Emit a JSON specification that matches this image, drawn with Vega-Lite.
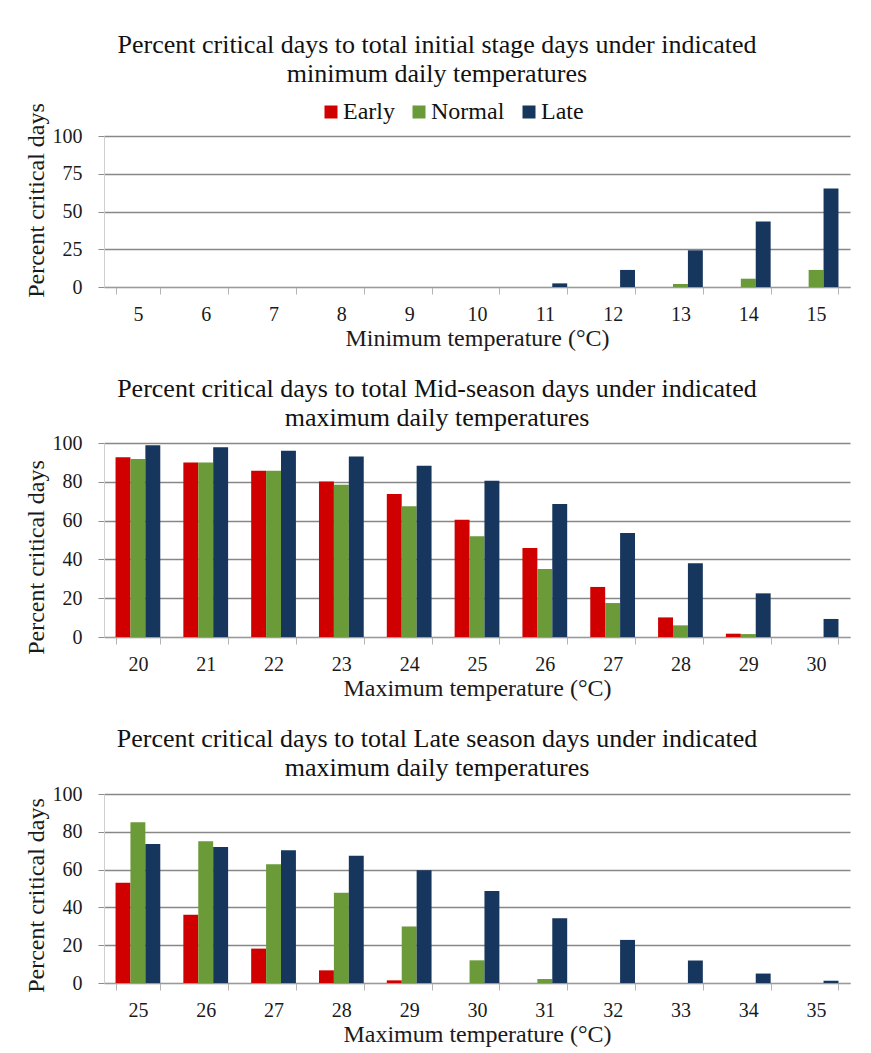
{
  "$schema": "https://vega.github.io/schema/vega-lite/v6.json",
  "background": "white",
  "padding": {"left": 24, "top": 32, "right": 12, "bottom": 6},
  "spacing": 26,
  "datasets": {
    "initial": [
      {"temp": 5, "series": "Early", "pct": 0}, {"temp": 5, "series": "Normal", "pct": 0}, {"temp": 5, "series": "Late", "pct": 0},
      {"temp": 6, "series": "Early", "pct": 0}, {"temp": 6, "series": "Normal", "pct": 0}, {"temp": 6, "series": "Late", "pct": 0},
      {"temp": 7, "series": "Early", "pct": 0}, {"temp": 7, "series": "Normal", "pct": 0}, {"temp": 7, "series": "Late", "pct": 0},
      {"temp": 8, "series": "Early", "pct": 0}, {"temp": 8, "series": "Normal", "pct": 0}, {"temp": 8, "series": "Late", "pct": 0},
      {"temp": 9, "series": "Early", "pct": 0}, {"temp": 9, "series": "Normal", "pct": 0}, {"temp": 9, "series": "Late", "pct": 0},
      {"temp": 10, "series": "Early", "pct": 0}, {"temp": 10, "series": "Normal", "pct": 0}, {"temp": 10, "series": "Late", "pct": 0},
      {"temp": 11, "series": "Early", "pct": 0}, {"temp": 11, "series": "Normal", "pct": 0}, {"temp": 11, "series": "Late", "pct": 2.4},
      {"temp": 12, "series": "Early", "pct": 0}, {"temp": 12, "series": "Normal", "pct": 0}, {"temp": 12, "series": "Late", "pct": 11.3},
      {"temp": 13, "series": "Early", "pct": 0}, {"temp": 13, "series": "Normal", "pct": 2.0}, {"temp": 13, "series": "Late", "pct": 24.3},
      {"temp": 14, "series": "Early", "pct": 0}, {"temp": 14, "series": "Normal", "pct": 5.5}, {"temp": 14, "series": "Late", "pct": 43.3},
      {"temp": 15, "series": "Early", "pct": 0}, {"temp": 15, "series": "Normal", "pct": 11.3}, {"temp": 15, "series": "Late", "pct": 65.3}
    ],
    "mid": [
      {"temp": 20, "series": "Early", "pct": 92.6}, {"temp": 20, "series": "Normal", "pct": 91.8}, {"temp": 20, "series": "Late", "pct": 98.8},
      {"temp": 21, "series": "Early", "pct": 90.0}, {"temp": 21, "series": "Normal", "pct": 90.0}, {"temp": 21, "series": "Late", "pct": 97.8},
      {"temp": 22, "series": "Early", "pct": 85.7}, {"temp": 22, "series": "Normal", "pct": 85.7}, {"temp": 22, "series": "Late", "pct": 96.0},
      {"temp": 23, "series": "Early", "pct": 80.2}, {"temp": 23, "series": "Normal", "pct": 78.5}, {"temp": 23, "series": "Late", "pct": 93.1},
      {"temp": 24, "series": "Early", "pct": 73.7}, {"temp": 24, "series": "Normal", "pct": 67.4}, {"temp": 24, "series": "Late", "pct": 88.3},
      {"temp": 25, "series": "Early", "pct": 60.5}, {"temp": 25, "series": "Normal", "pct": 51.9}, {"temp": 25, "series": "Late", "pct": 80.6},
      {"temp": 26, "series": "Early", "pct": 45.9}, {"temp": 26, "series": "Normal", "pct": 35.1}, {"temp": 26, "series": "Late", "pct": 68.6},
      {"temp": 27, "series": "Early", "pct": 25.8}, {"temp": 27, "series": "Normal", "pct": 17.5}, {"temp": 27, "series": "Late", "pct": 53.6},
      {"temp": 28, "series": "Early", "pct": 10.1}, {"temp": 28, "series": "Normal", "pct": 6.0}, {"temp": 28, "series": "Late", "pct": 38.0},
      {"temp": 29, "series": "Early", "pct": 1.7}, {"temp": 29, "series": "Normal", "pct": 1.5}, {"temp": 29, "series": "Late", "pct": 22.5},
      {"temp": 30, "series": "Early", "pct": 0}, {"temp": 30, "series": "Normal", "pct": 0}, {"temp": 30, "series": "Late", "pct": 9.3}
    ],
    "late": [
      {"temp": 25, "series": "Early", "pct": 53.1}, {"temp": 25, "series": "Normal", "pct": 85.1}, {"temp": 25, "series": "Late", "pct": 73.5},
      {"temp": 26, "series": "Early", "pct": 36.1}, {"temp": 26, "series": "Normal", "pct": 75.0}, {"temp": 26, "series": "Late", "pct": 72.0},
      {"temp": 27, "series": "Early", "pct": 18.2}, {"temp": 27, "series": "Normal", "pct": 62.8}, {"temp": 27, "series": "Late", "pct": 70.3},
      {"temp": 28, "series": "Early", "pct": 6.7}, {"temp": 28, "series": "Normal", "pct": 47.8}, {"temp": 28, "series": "Late", "pct": 67.3},
      {"temp": 29, "series": "Early", "pct": 1.4}, {"temp": 29, "series": "Normal", "pct": 29.9}, {"temp": 29, "series": "Late", "pct": 59.6},
      {"temp": 30, "series": "Early", "pct": 0}, {"temp": 30, "series": "Normal", "pct": 12.0}, {"temp": 30, "series": "Late", "pct": 48.7},
      {"temp": 31, "series": "Early", "pct": 0}, {"temp": 31, "series": "Normal", "pct": 2.1}, {"temp": 31, "series": "Late", "pct": 34.3},
      {"temp": 32, "series": "Early", "pct": 0}, {"temp": 32, "series": "Normal", "pct": 0}, {"temp": 32, "series": "Late", "pct": 22.8},
      {"temp": 33, "series": "Early", "pct": 0}, {"temp": 33, "series": "Normal", "pct": 0}, {"temp": 33, "series": "Late", "pct": 11.9},
      {"temp": 34, "series": "Early", "pct": 0}, {"temp": 34, "series": "Normal", "pct": 0}, {"temp": 34, "series": "Late", "pct": 5.0},
      {"temp": 35, "series": "Early", "pct": 0}, {"temp": 35, "series": "Normal", "pct": 0}, {"temp": 35, "series": "Late", "pct": 1.2}
    ]
  },
  "config": {
    "font": "Liberation Serif",
    "view": {"stroke": null},
    "bar": {"stroke": null},
    "axis": {
      "labelFont": "Liberation Serif",
      "titleFont": "Liberation Serif",
      "labelFontSize": 20,
      "titleFontSize": 24,
      "titleFontWeight": "normal",
      "labelColor": "#1a1a1a",
      "titleColor": "#1a1a1a"
    },
    "axisX": {
      "labelAngle": 0,
      "grid": false,
      "domainColor": "#9a9a9a",
      "tickColor": "#b4b4b4",
      "tickSize": 7,
      "tickBand": "extent",
      "labelPadding": 10,
      "titlePadding": 2
    },
    "axisY": {
      "domainColor": "#cfcfcf",
      "tickColor": "#8c8c8c",
      "tickSize": 6,
      "gridColor": "#878787",
      "gridWidth": 1.3,
      "labelPadding": 16,
      "titlePadding": 4
    },
    "title": {
      "font": "Liberation Serif",
      "fontSize": 26,
      "fontWeight": "normal",
      "color": "#111111",
      "anchor": "middle",
      "frame": "bounds",
      "lineHeight": 29
    },
    "legend": {
      "labelFont": "Liberation Serif",
      "labelFontSize": 24,
      "labelColor": "#111111",
      "symbolType": "square",
      "symbolSize": 169,
      "symbolStrokeWidth": 0,
      "labelOffset": 0,
      "columnPadding": 12
    }
  },
  "resolve": {"legend": {"color": "independent"}},
  "vconcat": [
    {
      "title": {
        "text": ["Percent critical days to total initial stage days under indicated", "minimum daily temperatures"],
        "offset": 13
      },
      "data": {"name": "initial"},
      "width": 746,
      "height": 151,
      "mark": {"type": "bar"},
      "encoding": {
        "x": {
          "field": "temp",
          "type": "ordinal",
          "scale": {"paddingInner": 0.34, "paddingOuter": 0.17},
          "axis": {"title": "Minimum temperature (°C)"}
        },
        "xOffset": {
          "field": "series",
          "type": "nominal",
          "sort": ["Early", "Normal", "Late"],
          "scale": {"paddingInner": 0, "paddingOuter": 0}
        },
        "y": {
          "field": "pct",
          "type": "quantitative",
          "scale": {"domain": [0, 100]},
          "axis": {"title": "Percent critical days", "values": [0, 25, 50, 75, 100], "titleY": 64}
        },
        "color": {
          "field": "series",
          "type": "nominal",
          "sort": ["Early", "Normal", "Late"],
          "scale": {"domain": ["Early", "Normal", "Late"], "range": ["#d00000", "#6b9a39", "#17365d"]},
          "legend": {"title": null, "orient": "none", "direction": "horizontal", "legendX": 215, "legendY": -36}
        }
      }
    },
    {
      "title": {
        "text": ["Percent critical days to total Mid-season days under indicated", "maximum daily temperatures"],
        "offset": 2
      },
      "data": {"name": "mid"},
      "width": 746,
      "height": 194,
      "mark": {"type": "bar"},
      "encoding": {
        "x": {
          "field": "temp",
          "type": "ordinal",
          "scale": {"paddingInner": 0.34, "paddingOuter": 0.17},
          "axis": {"title": "Maximum temperature (°C)"}
        },
        "xOffset": {
          "field": "series",
          "type": "nominal",
          "sort": ["Early", "Normal", "Late"],
          "scale": {"paddingInner": 0, "paddingOuter": 0}
        },
        "y": {
          "field": "pct",
          "type": "quantitative",
          "scale": {"domain": [0, 100]},
          "axis": {"title": "Percent critical days", "values": [0, 20, 40, 60, 80, 100], "titleY": 114}
        },
        "color": {
          "field": "series",
          "type": "nominal",
          "sort": ["Early", "Normal", "Late"],
          "scale": {"domain": ["Early", "Normal", "Late"], "range": ["#d00000", "#6b9a39", "#17365d"]},
          "legend": null
        }
      }
    },
    {
      "title": {
        "text": ["Percent critical days to total Late season days under indicated", "maximum daily temperatures"],
        "offset": 3
      },
      "data": {"name": "late"},
      "width": 746,
      "height": 189,
      "mark": {"type": "bar"},
      "encoding": {
        "x": {
          "field": "temp",
          "type": "ordinal",
          "scale": {"paddingInner": 0.34, "paddingOuter": 0.17},
          "axis": {"title": "Maximum temperature (°C)"}
        },
        "xOffset": {
          "field": "series",
          "type": "nominal",
          "sort": ["Early", "Normal", "Late"],
          "scale": {"paddingInner": 0, "paddingOuter": 0}
        },
        "y": {
          "field": "pct",
          "type": "quantitative",
          "scale": {"domain": [0, 100]},
          "axis": {"title": "Percent critical days", "values": [0, 20, 40, 60, 80, 100], "titleY": 101}
        },
        "color": {
          "field": "series",
          "type": "nominal",
          "sort": ["Early", "Normal", "Late"],
          "scale": {"domain": ["Early", "Normal", "Late"], "range": ["#d00000", "#6b9a39", "#17365d"]},
          "legend": null
        }
      }
    }
  ]
}
